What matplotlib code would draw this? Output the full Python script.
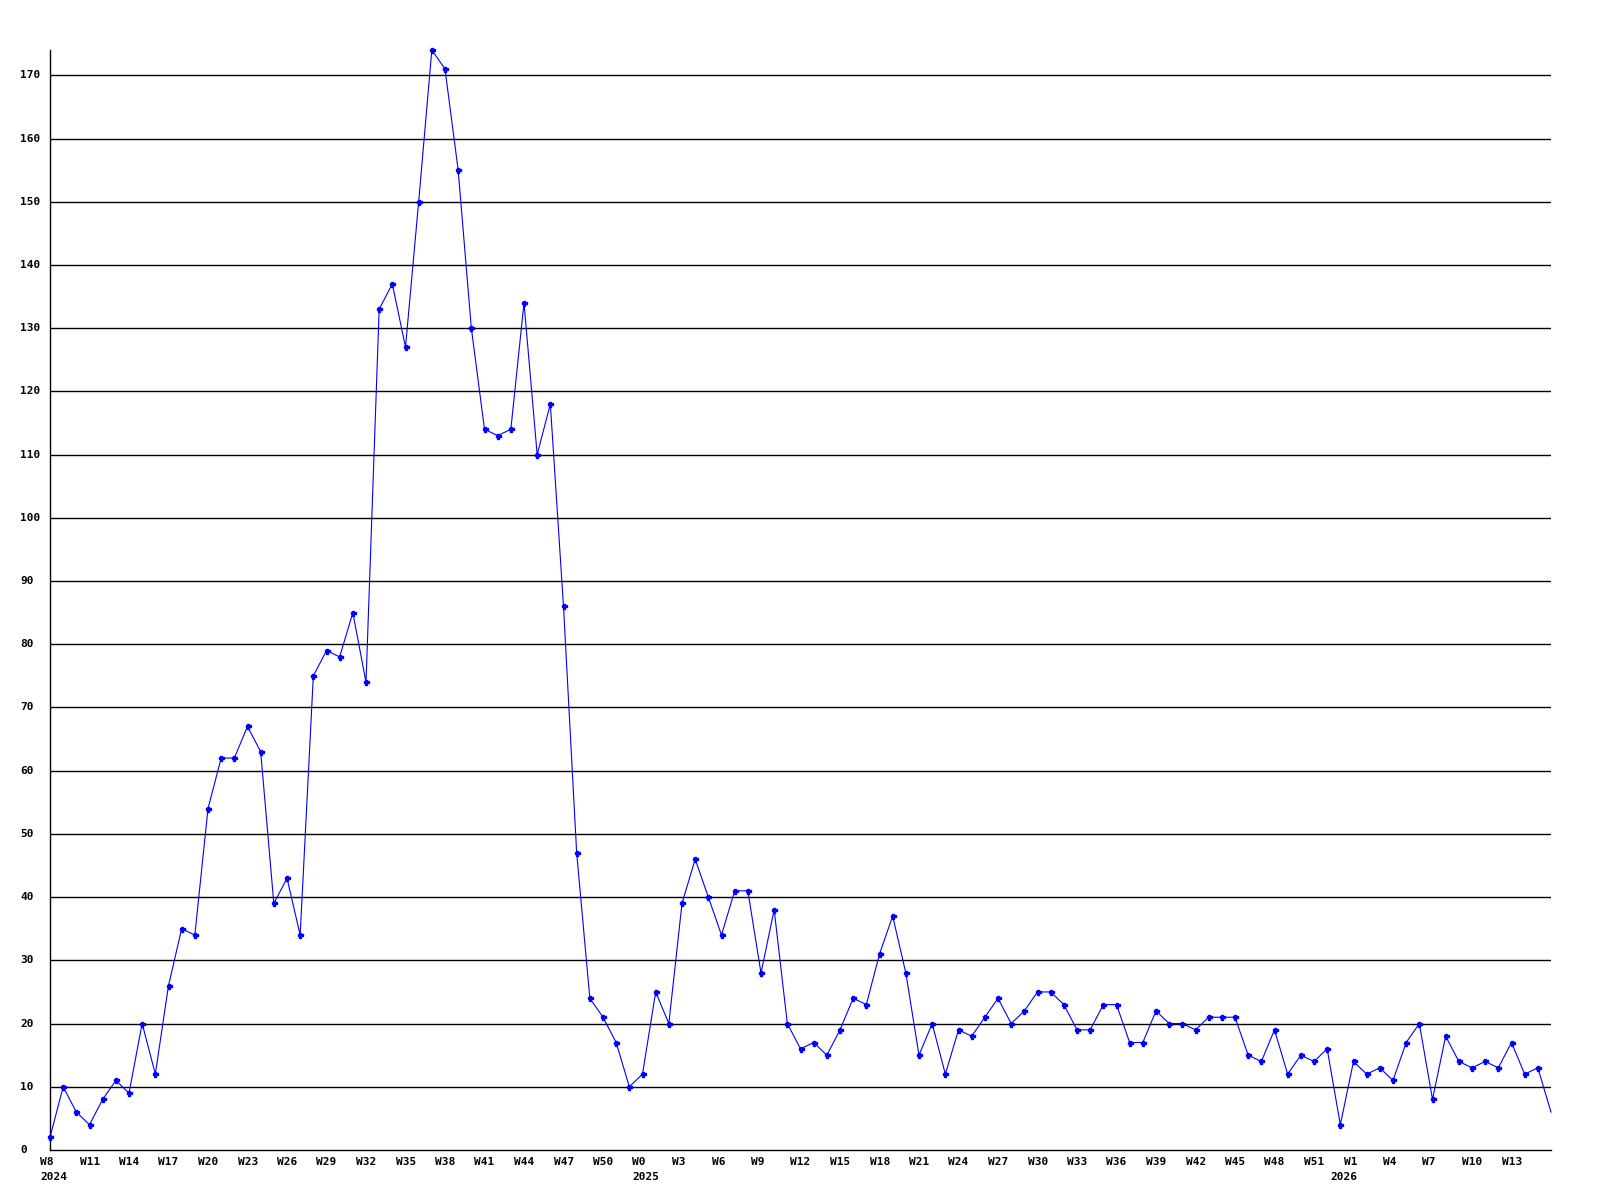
import matplotlib
matplotlib.use("Agg")
import matplotlib.pyplot as plt
import matplotlib.transforms as mtransforms

# ---- data ----
weeks_2024 = [f"W{w}" for w in range(8, 53)]
weeks_2025 = [f"W{w}" for w in range(0, 53)]
weeks_2026 = [f"W{w}" for w in range(0, 17)]

values_2024 = [2, 10, 6, 4, 8, 11, 9, 20, 12, 26, 35, 34, 54, 62, 62, 67, 63, 39, 43, 34,
               75, 79, 78, 85, 74, 133, 137, 127, 150, 174, 171, 155, 130, 114, 113, 114,
               134, 110, 118, 86, 47, 24, 21, 17, 10]
values_2025 = [12, 25, 20, 39, 46, 40, 34, 41, 41, 28, 38, 20, 16, 17, 15, 19, 24, 23, 31,
               37, 28, 15, 20, 12, 19, 18, 21, 24, 20, 22, 25, 25, 23, 19, 19, 23, 23, 17,
               17, 22, 20, 20, 19, 21, 21, 21, 15, 14, 19, 12, 15, 14, 16]
values_2026 = [4, 14, 12, 13, 11, 17, 20, 8, 18, 14, 13, 14, 13, 17, 12, 13, 6]

years = ["2024", "2025", "2026"]
y_ticks = list(range(0, 171, 10))

week_labels = weeks_2024 + weeks_2025 + weeks_2026
values = values_2024 + values_2025 + values_2026
year_starts = [0, len(weeks_2024), len(weeks_2024) + len(weeks_2025)]
x = list(range(len(values)))

# ---- figure ----
fig = plt.figure(figsize=(16, 12), dpi=100)
ax = fig.add_axes([50 / 1600, 1 - 1150 / 1200, 1501 / 1600, 1100 / 1200])

font = dict(family="DejaVu Sans Mono", fontsize=8, fontweight="bold", color="black")

for yv in y_ticks[1:]:
    ax.axhline(yv, color="black", linewidth=1.0, zorder=1)

ax.plot(x, values, color="#0000ff", linewidth=0.8, marker="P", markersize=3.6,
        markevery=list(range(len(values) - 1)), zorder=3, clip_on=False)

ax.set_xlim(0, len(values) - 1)
ax.set_ylim(0, 174)

for s in ["top", "right"]:
    ax.spines[s].set_visible(False)
for s in ["left", "bottom"]:
    ax.spines[s].set_linewidth(1.0)
    ax.spines[s].set_color("black")

ax.set_xticks([])
ax.set_yticks([])

# y tick labels (left aligned at x=20 px)
ytrans = mtransforms.blended_transform_factory(fig.transFigure, ax.transData)
for yv in y_ticks:
    ax.text(20 / 1600, yv, str(yv), transform=ytrans, ha="left", va="center",
            clip_on=False, **font)

# x tick labels (every 3 weeks, left aligned 10 px left of point)
off = mtransforms.ScaledTranslation(-10 / 100, 0, fig.dpi_scale_trans)
xtrans = mtransforms.blended_transform_factory(ax.transData, fig.transFigure) + off
for i in range(0, len(values) - 1, 3):
    ax.text(i, 1 - 1162 / 1200, week_labels[i], transform=xtrans, ha="left",
            va="center", clip_on=False, **font)
for yr, i in zip(years, year_starts):
    ax.text(i, 1 - 1177 / 1200, yr, transform=xtrans, ha="left", va="center",
            clip_on=False, **font)

fig.savefig("out.png", dpi=100, facecolor="white")
